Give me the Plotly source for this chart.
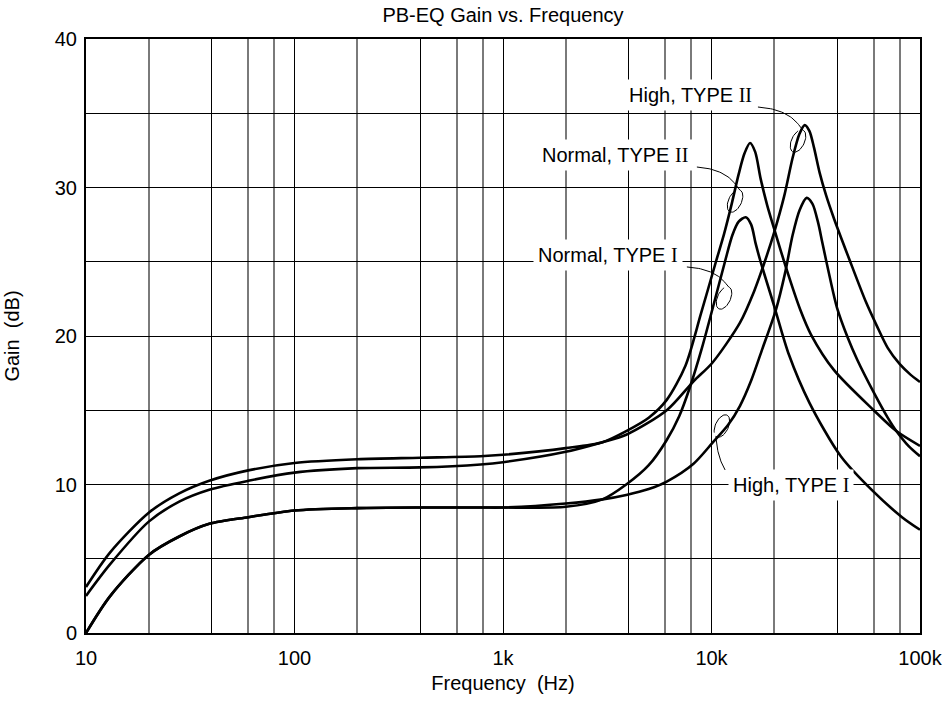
import numpy as np
import plotly.graph_objects as go

# ---------------- data ----------------
freq_normal_t2 = [10, 13, 20, 28, 39, 60, 100, 200, 400, 780, 1000, 2000, 3000, 3900, 5000, 6100, 7500,
                  8900, 10500, 11500, 12500, 13500, 14400, 15300, 16200, 17200, 18500, 20000,
                  22900, 26600, 30000, 38700, 60000, 77000, 100000]
gain_normal_t2 = [3.1, 5.4, 8.1, 9.4, 10.25, 10.95, 11.45, 11.7, 11.8, 11.9, 12.0, 12.45, 12.85, 13.6, 14.5, 15.7, 18.0,
                  21.5, 25.0, 26.9, 28.9, 30.9, 32.3, 33.0, 32.4, 30.6, 28.8, 27.2,
                  24.5, 21.8, 20.1, 17.7, 15.0, 13.6, 12.6]

freq_high_t2 = [10, 13, 20, 28, 39, 60, 100, 200, 400, 780, 1000, 2000, 3000, 3900, 6100, 8200,
                10100, 13700, 16000, 18000, 20000, 22300, 24500, 26400, 28000, 29500, 31000, 33000,
                35400, 38700, 46000, 55000, 62000, 70000, 80000, 90000, 100000]
gain_high_t2 = [2.5, 4.6, 7.5, 8.85, 9.65, 10.25, 10.8, 11.1, 11.15, 11.35, 11.5, 12.2, 12.85, 13.35, 15.0, 16.95,
                18.2, 20.9, 23.0, 25.0, 27.0, 29.4, 32.0, 33.6, 34.2, 33.8, 32.7, 31.0,
                29.5, 27.9, 25.1, 22.3, 20.7, 19.2, 18.1, 17.4, 16.9]

freq_normal_t1 = [10, 13, 20, 28, 39, 60, 100, 200, 400, 780, 1000, 2000, 3000, 3900, 5000, 6100,
                  7000, 7900, 9000, 10100, 11600, 12600, 13500, 14600, 15500, 16300, 17200, 20000,
                  23500, 29500, 41700, 59000, 82000, 100000]
gain_normal_t1 = [0.0, 2.45, 5.26, 6.5, 7.35, 7.8, 8.25, 8.41, 8.45, 8.45, 8.45, 8.5, 9.0, 10.0, 11.3, 13.0,
                  14.6, 16.6, 19.2, 21.8, 25.0, 26.8, 27.7, 28.0, 27.5, 26.2, 25.0, 22.0,
                  18.75, 15.5, 11.9, 9.6, 7.8, 6.95]

freq_high_t1 = [10, 13, 20, 28, 39, 60, 100, 200, 400, 780, 1000, 2000, 3000, 3900, 5000, 6100,
                8200, 10100, 12000, 13700, 15500, 17500, 20400, 22500, 24500, 26500, 28600, 30500,
                32500, 34000, 37000, 40000, 45000, 50000, 60000, 70000, 77000, 88000, 100000]
gain_high_t1 = [0.0, 2.45, 5.26, 6.5, 7.35, 7.8, 8.25, 8.41, 8.45, 8.45, 8.45, 8.72, 9.0, 9.3, 9.7, 10.2,
                11.4, 12.8, 14.0, 15.3, 17.0, 19.1, 21.8, 24.2, 26.8, 28.5, 29.3, 28.9,
                27.6, 26.3, 23.9, 21.9, 19.9, 18.4, 16.2, 14.5, 13.6, 12.6, 11.9]

# tick / grid values
x_label_vals = [10, 100, 1000, 10000, 100000]
x_label_text = ["10", "100", "1k", "10k", "100k"]
x_major_grid = [10, 40, 100, 400, 1000, 4000, 10000, 40000, 100000]
x_minor_grid = [20, 60, 80, 200, 600, 800, 2000, 6000, 8000, 20000, 60000, 80000]
y_grid_vals = [0, 5, 10, 15, 20, 25, 30, 35, 40]
y_label_text = ["0", "", "10", "", "20", "", "30", "", "40"]

# curve labels: text, label centre (Hz, dB), leader start (Hz, dB), loop centre on curve (Hz, dB)
label_text = ["High, TYPE <span style='font-family:Liberation Serif'>II</span>",
              "Normal, TYPE <span style='font-family:Liberation Serif'>II</span>",
              "Normal, TYPE <span style='font-family:Liberation Serif'>I</span>",
              "High, TYPE <span style='font-family:Liberation Serif'>I</span>"]
label_freq = [7890, 3444, 3192, 24040]
label_gain = [36.2, 32.2, 25.45, 9.97]
leader_start_freq = [16700, 8510, 7620, 11620]
leader_start_gain = [35.42, 31.38, 24.65, 10.98]
loop_freq = [26000, 12970, 11480, 11220]
loop_gain = [33.13, 29.09, 22.56, 13.94]

# ---------------- figure ----------------
FONT = "Liberation Sans, Arial, Helvetica, sans-serif"
X0, PXD, Y0, PYD = 86.0, 208.5, 633.0, 14.85   # plot-area geometry (px)


def to_px(f, g):
    return X0 + (np.log10(f) - 1.0) * PXD, Y0 - np.asarray(g) * PYD


def to_data(x, y):
    return 10 ** (1.0 + (np.asarray(x) - X0) / PXD), (Y0 - np.asarray(y)) / PYD


def leader(sf, sg, cf, cg, below):
    sx, sy = to_px(sf, sg)
    cx, cy = to_px(cf, cg)
    rx, ry, tilt = 6.5, 12.0, np.radians(25)
    a0 = np.radians(100 if below else -100)

    def ell(a):
        ex, ey = rx * np.cos(a), ry * np.sin(a)
        return (cx + ex * np.cos(tilt) - ey * np.sin(tilt),
                cy + ex * np.sin(tilt) + ey * np.cos(tilt))
    px_, py_ = ell(a0)
    if below:
        qx, qy = sx - 8, sy - 0.4 * (sy - py_)
    else:
        qx, qy = sx + 0.75 * (px_ - sx), sy + 0.1 * (py_ - sy)
    t = np.linspace(0, 1, 30)
    bx = (1 - t) ** 2 * sx + 2 * (1 - t) * t * qx + t ** 2 * px_
    by = (1 - t) ** 2 * sy + 2 * (1 - t) * t * qy + t ** 2 * py_
    direction = -1 if below else 1
    a = a0 + direction * np.linspace(0, np.radians(330), 50)
    lx, ly = ell(a)
    return to_data(np.concatenate([bx, lx]), np.concatenate([by, ly]))


fig = go.Figure()

for f, g in [(freq_normal_t2, gain_normal_t2), (freq_high_t2, gain_high_t2),
             (freq_normal_t1, gain_normal_t1), (freq_high_t1, gain_high_t1)]:
    fig.add_trace(go.Scatter(x=f, y=g, mode="lines",
                             line=dict(color="black", width=2.6, shape="spline", smoothing=0.8),
                             hoverinfo="skip"))

for i in range(len(label_text)):
    lf, lg = leader(leader_start_freq[i], leader_start_gain[i], loop_freq[i], loop_gain[i], below=(i == 3))
    fig.add_trace(go.Scatter(x=lf, y=lg, mode="lines", line=dict(color="black", width=1),
                             hoverinfo="skip"))
    fig.add_annotation(x=np.log10(label_freq[i]), y=label_gain[i], xref="x", yref="y",
                       text=label_text[i], showarrow=False, bgcolor="white", borderpad=4,
                       font=dict(family=FONT, size=20, color="black"))

fig.update_layout(
    template="none",
    width=952, height=701,
    margin=dict(l=86, r=32, t=39, b=68, autoexpand=False),
    paper_bgcolor="white", plot_bgcolor="white",
    showlegend=False,
    font=dict(family=FONT, size=20, color="black"),
    title=dict(text="PB-EQ Gain vs. Frequency", x=0.5, xref="paper", xanchor="center",
               y=1 - 15.0 / 701, yref="container", yanchor="middle",
               font=dict(family=FONT, size=20, color="black")),
)

fig.update_xaxes(
    type="log", range=[1, 5], automargin=False,
    tickmode="array", tickvals=x_major_grid,
    ticktext=[x_label_text[x_label_vals.index(v)] if v in x_label_vals else "" for v in x_major_grid],
    ticks="", showgrid=True, gridcolor="black", gridwidth=1,
    minor=dict(tickmode="array", tickvals=x_minor_grid, showgrid=True, gridcolor="#7a7a7a",
               gridwidth=2, ticks=""),
    showline=True, linecolor="black", linewidth=2, mirror=True,
    zeroline=False, ticklabelstandoff=6,
    tickfont=dict(family=FONT, size=20, color="black"),
    title=dict(text="Frequency  (Hz)", standoff=8, font=dict(family=FONT, size=20, color="black")),
)
fig.update_yaxes(
    range=[0, 40], automargin=False, tickmode="array", tickvals=y_grid_vals, ticktext=y_label_text,
    ticks="", showgrid=True, gridcolor="black", gridwidth=1,
    showline=True, linecolor="black", linewidth=2, mirror=True,
    zeroline=False, ticklabelstandoff=3,
    tickfont=dict(family=FONT, size=20, color="black"),
    title=dict(text="Gain  (dB)", standoff=30, font=dict(family=FONT, size=20, color="black")),
)

fig.write_html("out.html", config={"displayModeBar": False},
               post_script="document.body.style.margin='0';")
